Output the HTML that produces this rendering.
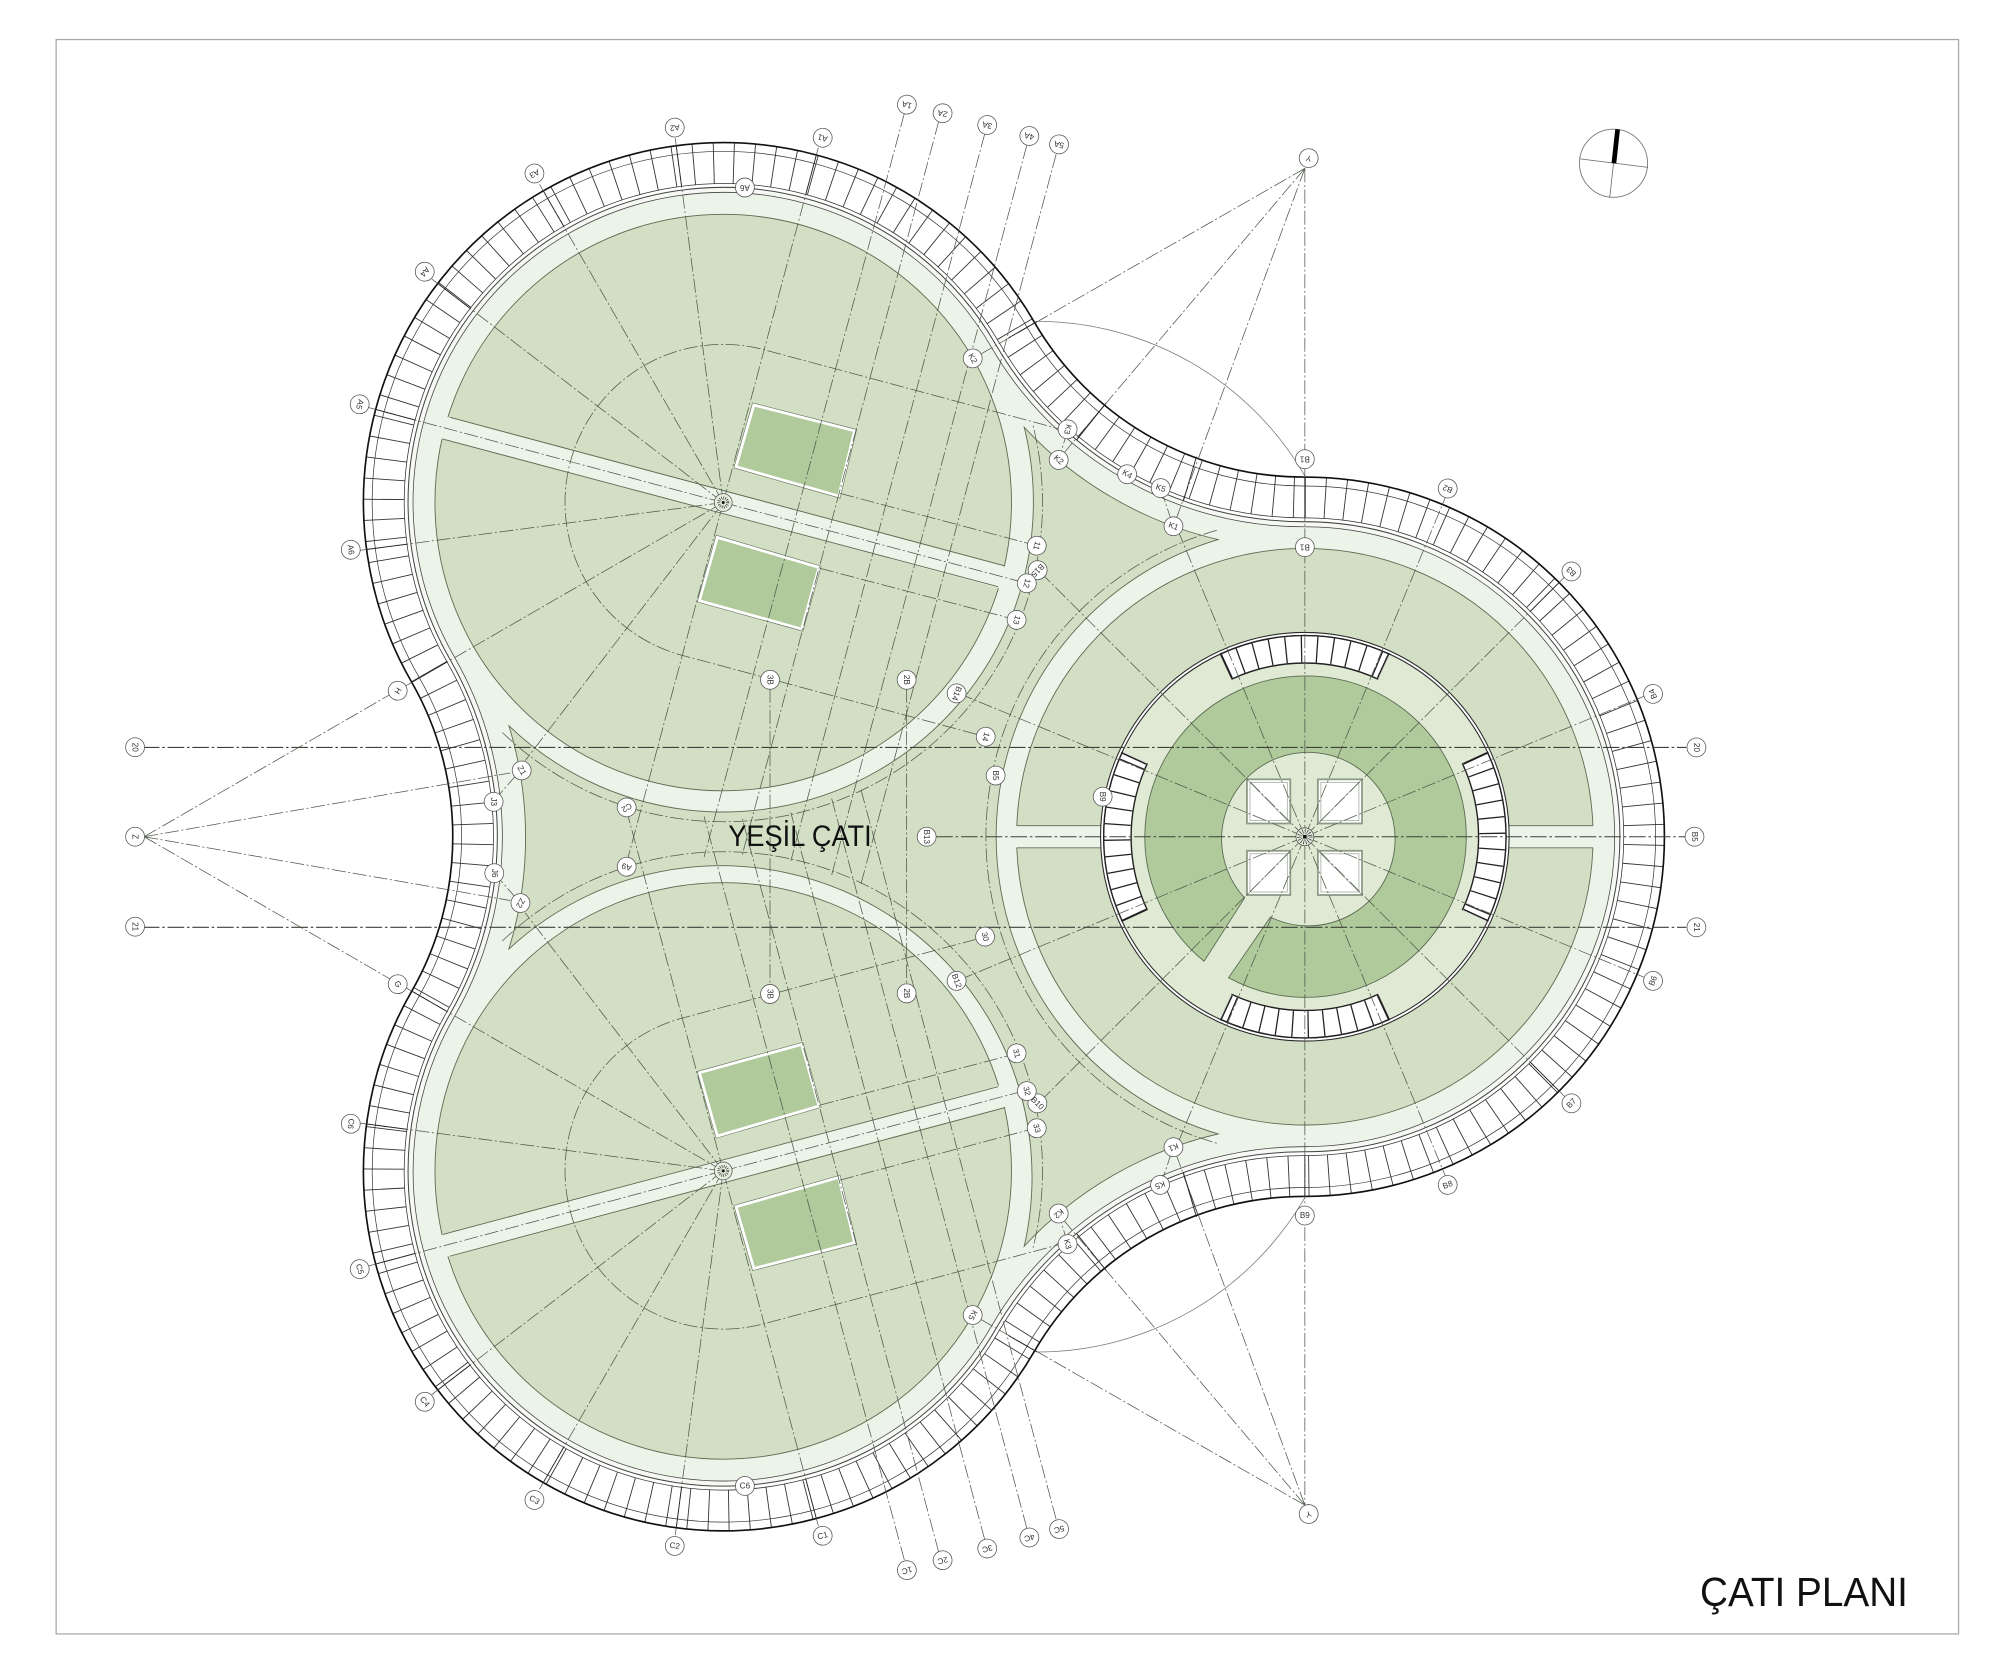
<!DOCTYPE html>
<html lang="tr">
<head>
<meta charset="utf-8">
<title>Çatı Planı</title>
<style>
html,body{margin:0;padding:0;background:#fff}
svg{display:block}
.g{fill:none;stroke:#515c4c;stroke-width:.6;stroke-dasharray:11 2 1.6 2}
.h{fill:none;stroke:#3c4238;stroke-width:.85;stroke-dasharray:13 2.2 2 2.2}
.s{fill:none;stroke:#222;stroke-width:.7}
.e{fill:none;stroke:#5a6b52;stroke-width:.7}
.t{fill:none;stroke:#333;stroke-width:.55}
.m circle{fill:#fff;stroke:#555;stroke-width:.6}
.m text{font:6.4px "Liberation Sans",sans-serif;fill:#333;text-anchor:middle;dominant-baseline:central}
.lbl{font-family:"Liberation Sans","Noto Sans CJK JP",sans-serif;fill:#111}
</style>
</head>
<body>
<svg xmlns="http://www.w3.org/2000/svg" width="2000" height="1678" viewBox="0 0 1568 1315.55">
<rect width="1568" height="1316" fill="#fff"/>
<rect x="44" y="31" width="1491.5" height="1250" fill="#fff" stroke="#a8a8a8" stroke-width="1"/>

<!-- trefoil outline and cladding band (semicircle radii are auto-fitted to the chord) -->
<path d="M1023,374 A100 100 0 0 1 1023,938 A244 244 0 0 0 811,1059.3 A100 100 0 1 1 322.8,777.1 A244 244 0 0 0 322.8,534.9 A100 100 0 1 1 811,252.7 A244 244 0 0 0 1023,374Z" fill="#fff"/>
<path d="M1023,390 A100 100 0 0 1 1023,922 A260 260 0 0 0 797.2,1051.3 A100 100 0 1 1 336.6,785 A260 260 0 0 0 336.6,527 A100 100 0 1 1 797.2,260.7 A260 260 0 0 0 1023,390Z" fill="none" stroke="#333" stroke-width="32" stroke-dasharray=".7 15"/>
<path d="M1023,381 A100 100 0 0 1 1023,931 A251 251 0 0 0 805,1055.8 A100 100 0 1 1 328.8,780.6 A251 251 0 0 0 328.8,531.4 A100 100 0 1 1 805,256.2 A251 251 0 0 0 1023,381Z" class="t"/>
<path d="M1023,374 A100 100 0 0 1 1023,938 A244 244 0 0 0 811,1059.3 A100 100 0 1 1 322.8,777.1 A244 244 0 0 0 322.8,534.9 A100 100 0 1 1 811,252.7 A244 244 0 0 0 1023,374Z" fill="none" stroke="#111" stroke-width="1.3"/>
<path d="M1023,406 A100 100 0 0 1 1023,906 A276 276 0 0 0 783.4,1043.2 A100 100 0 1 1 350.5,793 A276 276 0 0 0 350.5,519 A100 100 0 1 1 783.4,268.8 A276 276 0 0 0 1023,406Z" fill="#fff" stroke="#333" stroke-width=".6"/>
<path d="M1023,409 A100 100 0 0 1 1023,903 A279 279 0 0 0 780.8,1041.7 A100 100 0 1 1 353.1,794.5 A279 279 0 0 0 353.1,517.5 A100 100 0 1 1 780.8,270.3 A279 279 0 0 0 1023,409Z" fill="#f6f8f3" stroke="#444" stroke-width=".8"/>
<path d="M1023,413 A100 100 0 0 1 1023,899 A283 283 0 0 0 777.3,1039.7 A100 100 0 1 1 356.5,796.5 A283 283 0 0 0 356.5,515.5 A100 100 0 1 1 777.3,272.3 A283 283 0 0 0 1023,413Z" fill="#ecf3e8" stroke="#444" stroke-width=".6"/>

<!-- central green roof -->
<path d="M955,423 A243 243 0 0 0 955,889 A300 300 0 0 0 803,977 A244 244 0 0 0 399,744 A300 300 0 0 0 399,569 A243 243 0 0 0 803,335 A300 300 0 0 0 955,423Z" fill="#d2dfc4" stroke="#5a6b52" stroke-width=".7"/>

<!-- right lobe -->
<circle cx="1023" cy="656" r="226" fill="#d2dfc4" stroke="#5a6b52" stroke-width=".7"/>
<rect x="785" y="647.3" width="476" height="17.4" fill="#ecf3e8"/>
<path class="e" d="M797,647.3H870M797,664.7H870M1176,647.3H1249M1176,664.7H1249"/>
<circle cx="1023" cy="656" r="159" fill="#dfe9d4" stroke="#2a2a2a" stroke-width="3.2"/>
<circle cx="1023" cy="656" r="159" fill="none" stroke="#fff" stroke-width="1.5"/>
<path d="M944,753.6 A126 126 0 1 1 963.2,766.5 L996,719 A68 68 0 1 0 975.8,704Z" fill="#b0ca9b" stroke="#5a6b52" stroke-width=".7"/>

<!-- skylights in drum -->
<g fill="#fff" stroke="#8c9a86" stroke-width="1.4">
<rect x="977.6" y="611" width="34" height="34.6"/>
<rect x="1033.2" y="611" width="34.6" height="34.6"/>
<rect x="977.6" y="667" width="34" height="34.7"/>
<rect x="1033.2" y="667" width="34.6" height="34.7"/>
</g>
<g fill="none" stroke="#8c9a86" stroke-width=".5">
<rect x="980" y="613.4" width="29.2" height="29.8"/>
<rect x="1035.6" y="613.4" width="29.8" height="29.8"/>
<rect x="980" y="669.4" width="29.2" height="29.9"/>
<rect x="1035.6" y="669.4" width="29.8" height="29.9"/>
<path d="M977.6,611 L1011.6,645.6M1067.8,611 L1033.2,645.6M977.6,701.7 L1011.6,667M1067.8,701.7 L1033.2,667"/>
</g>

<!-- clerestory window segments -->
<g fill="none">
<g id="w">
<path d="M960.9,522.8 A147 147 0 0 1 1085.1,522.8" stroke="#222" stroke-width="22.6"/>
<path d="M960.9,522.8 A147 147 0 0 1 1085.1,522.8" stroke="#fff" stroke-width="20.4"/>
<path d="M960.9,522.8 A147 147 0 0 1 1085.1,522.8" stroke="#222" stroke-width="20.4" stroke-dasharray="1 11.2"/>
<path d="M966,531.5 L957,512M1080,531.5 L1089,512" stroke="#222" stroke-width="1.2"/>
</g>
<use href="#w" transform="rotate(90 1023 656)"/>
<use href="#w" transform="rotate(180 1023 656)"/>
<use href="#w" transform="rotate(270 1023 656)"/>
</g>

<!-- upper-left lobe (mirrored for lower-left) -->
<g id="u">
<circle cx="567" cy="394" r="226" fill="#d2dfc4" stroke="#5a6b52" stroke-width=".7"/>
<line x1="340" y1="333.1" x2="794" y2="454.9" stroke="#ecf3e8" stroke-width="17.4"/>
<path class="e" d="M352.8,327.2 L788,443.7M347.2,344.2 L782.5,460"/>
<polygon points="591,317.5 670,337.7 657.6,388.9 577,365.9" fill="#b0ca9b" stroke="#66765c" stroke-width="3.2"/>
<polygon points="591,317.5 670,337.7 657.6,388.9 577,365.9" fill="#b0ca9b" stroke="#fff" stroke-width="2.2"/>
<polygon points="562.4,421.3 642.1,444.8 628.5,493.2 548.3,471" fill="#b0ca9b" stroke="#66765c" stroke-width="3.2"/>
<polygon points="562.4,421.3 642.1,444.8 628.5,493.2 548.3,471" fill="#b0ca9b" stroke="#fff" stroke-width="2.2"/>

<!-- radial grid -->
<g class="g">
<line x1="567" y1="394" x2="567" y2="106" transform="rotate(15 567 394)"/>
<line x1="567" y1="394" x2="567" y2="106" transform="rotate(-7.5 567 394)"/>
<line x1="567" y1="394" x2="567" y2="106" transform="rotate(-30 567 394)"/>
<line x1="567" y1="394" x2="567" y2="106" transform="rotate(-52.5 567 394)"/>
<line x1="567" y1="394" x2="567" y2="106" transform="rotate(-75 567 394)"/>
<line x1="567" y1="394" x2="567" y2="106" transform="rotate(-97.5 567 394)"/>
<line x1="567" y1="394" x2="567" y2="106" transform="rotate(-120 567 394)"/>
<line x1="567" y1="394" x2="567" y2="139" transform="rotate(-142.5 567 394)"/>
<line x1="567" y1="394" x2="567" y2="106" transform="rotate(-165 567 394)"/>
<line x1="567" y1="394" x2="805" y2="457.3"/>
<path d="M836.7,337.9 L599.1,274.2 A124 124 0 0 0 534.9,513.8 L772.8,577.6"/>
<line x1="658.6" y1="386.8" x2="812.8" y2="427.8"/>
<line x1="642.9" y1="445.6" x2="797" y2="486"/>
<!-- parallel grid A -->
<line x1="709" y1="89" x2="552" y2="672"/>
<line x1="736" y1="95" x2="582" y2="670"/>
<line x1="772" y1="105" x2="620" y2="675"/>
<line x1="805" y1="114" x2="652" y2="686"/>
<line x1="828" y1="121" x2="675" y2="693"/>
<!-- fillet-centre rays -->
<line x1="1023" y1="132" x2="763" y2="281"/>
<line x1="1023" y1="132" x2="830" y2="360"/>
<line x1="1023" y1="132" x2="920" y2="412.6"/>
<line x1="113" y1="656" x2="311" y2="541.5"/>
<line x1="113" y1="656" x2="400" y2="606"/>
<!-- rings near the green roof -->
<path d="M393.9,574.3 A250 250 0 0 0 809.8,333.3"/>
<line x1="837" y1="337" x2="830" y2="361"/>
<line x1="910" y1="383" x2="920" y2="413"/>
<line x1="387" y1="628" x2="408" y2="604"/>
</g>
<g class="s">
<line x1="567" y1="144" x2="567" y2="112" transform="rotate(15 567 394)"/>
<line x1="567" y1="144" x2="567" y2="112" transform="rotate(-7.5 567 394)"/>
<line x1="567" y1="144" x2="567" y2="112" transform="rotate(-30 567 394)"/>
<line x1="567" y1="144" x2="567" y2="112" transform="rotate(-52.5 567 394)"/>
<line x1="567" y1="144" x2="567" y2="112" transform="rotate(-75 567 394)"/>
<line x1="567" y1="144" x2="567" y2="112" transform="rotate(-97.5 567 394)"/>
<line x1="567" y1="144" x2="567" y2="112" transform="rotate(-120 567 394)"/>
<line x1="813" y1="252" x2="790.6" y2="265"/>
<line x1="867" y1="316.2" x2="844" y2="345"/>
<line x1="938" y1="358" x2="927.7" y2="393"/>
</g>
<path d="M813,252 A243 243 0 0 1 1023,373" fill="none" stroke="#777" stroke-width=".6"/>
<circle cx="567" cy="394" r="7" fill="#e6eedd" stroke="#555" stroke-width=".6"/>
<circle cx="567" cy="394" r="3.5" fill="none" stroke="#333" stroke-width="2.4" stroke-dasharray=".5 1"/>
<circle cx="567" cy="394" r="1.2" fill="#111"/>
</g>
<use href="#u" transform="matrix(1 0 0 -1 0 1312)"/>

<!-- right lobe grid -->
<path class="g" d="M954,415.7 A250 250 0 0 0 954,896.3"/>
<g class="g">
<line x1="1023" y1="656" x2="1023" y2="368" transform="rotate(22.5 1023 656)"/>
<line x1="1023" y1="656" x2="1023" y2="368" transform="rotate(45 1023 656)"/>
<line x1="1023" y1="656" x2="1023" y2="368" transform="rotate(67.5 1023 656)"/>
<line x1="1023" y1="656" x2="1023" y2="368" transform="rotate(112.5 1023 656)"/>
<line x1="1023" y1="656" x2="1023" y2="368" transform="rotate(135 1023 656)"/>
<line x1="1023" y1="656" x2="1023" y2="368" transform="rotate(157.5 1023 656)"/>
<line x1="1023" y1="656" x2="1023" y2="392" transform="rotate(-157.5 1023 656)"/>
<line x1="1023" y1="656" x2="1023" y2="360" transform="rotate(-135 1023 656)"/>
<line x1="1023" y1="656" x2="1023" y2="361" transform="rotate(-112.5 1023 656)"/>
<line x1="1023" y1="656" x2="1023" y2="361" transform="rotate(-67.5 1023 656)"/>
<line x1="1023" y1="656" x2="1023" y2="360" transform="rotate(-45 1023 656)"/>
<line x1="1023" y1="656" x2="1023" y2="392" transform="rotate(-22.5 1023 656)"/>
<line x1="1023" y1="132" x2="1023" y2="1180"/>
<line x1="603.7" y1="540" x2="603.7" y2="772"/>
<line x1="710.8" y1="540" x2="710.8" y2="772"/>
</g>
<g class="s">
<line x1="1023" y1="406" x2="1023" y2="374"/>
<line x1="1023" y1="906" x2="1023" y2="938"/>
<line x1="1023" y1="406" x2="1023" y2="374" transform="rotate(45 1023 656)"/>
<line x1="1023" y1="406" x2="1023" y2="374" transform="rotate(135 1023 656)"/>
</g>
<g class="h">
<line x1="112" y1="586" x2="1322" y2="586"/>
<line x1="112" y1="727" x2="1322" y2="727"/>
<line x1="734" y1="656" x2="1322" y2="656"/>
</g>
<circle cx="1023" cy="656" r="7" fill="#e6eedd" stroke="#555" stroke-width=".6"/>
<circle cx="1023" cy="656" r="4" fill="none" stroke="#333" stroke-width="4" stroke-dasharray=".5 1.2"/>
<rect x="1021.6" y="654.6" width="2.8" height="2.8" fill="#111"/>

<!-- markers -->
<g class="m">
<!-- A line (top) -->
<g transform="translate(711,82) rotate(195)"><circle r="7.4"/><text>1A</text></g>
<g transform="translate(739,88.8) rotate(195)"><circle r="7.4"/><text>2A</text></g>
<g transform="translate(774,98) rotate(195)"><circle r="7.4"/><text>3A</text></g>
<g transform="translate(807,106.6) rotate(195)"><circle r="7.4"/><text>4A</text></g>
<g transform="translate(830.3,113.2) rotate(195)"><circle r="7.4"/><text>5A</text></g>
<!-- C line (bottom) -->
<g transform="translate(711,1231) rotate(165)"><circle r="7.4"/><text>1C</text></g>
<g transform="translate(739,1223.2) rotate(165)"><circle r="7.4"/><text>2C</text></g>
<g transform="translate(774,1214) rotate(165)"><circle r="7.4"/><text>3C</text></g>
<g transform="translate(807,1205.4) rotate(165)"><circle r="7.4"/><text>4C</text></g>
<g transform="translate(830.3,1198.8) rotate(165)"><circle r="7.4"/><text>5C</text></g>
<!-- upper lobe rim -->
<g transform="translate(645,108) rotate(195)"><circle r="7.4"/><text>A1</text></g>
<g transform="translate(529,100) rotate(172)"><circle r="7.4"/><text>A2</text></g>
<g transform="translate(419,136) rotate(150)"><circle r="7.4"/><text>A3</text></g>
<g transform="translate(333,213) rotate(128)"><circle r="7.4"/><text>A4</text></g>
<g transform="translate(282,317) rotate(105)"><circle r="7.4"/><text>A5</text></g>
<g transform="translate(275,431) rotate(82)"><circle r="7.4"/><text>A6</text></g>
<g transform="translate(584,147) rotate(180)"><circle r="7.4"/><text>A6</text></g>
<g transform="translate(762.6,281) rotate(60)"><circle r="7.4"/><text>K2</text></g>
<g transform="translate(837,336.6) rotate(105)"><circle r="7.4"/><text>K3</text></g>
<g transform="translate(830,360.6) rotate(40)"><circle r="7.4"/><text>K2</text></g>
<g transform="translate(883.7,371.8) rotate(30)"><circle r="7.4"/><text>K4</text></g>
<g transform="translate(910,382.7) rotate(20)"><circle r="7.4"/><text>K5</text></g>
<g transform="translate(920,412.6) rotate(20)"><circle r="7.4"/><text>K1</text></g>
<!-- lower lobe rim -->
<g transform="translate(645,1204) rotate(-15)"><circle r="7.4"/><text>C1</text></g>
<g transform="translate(529,1212) rotate(8)"><circle r="7.4"/><text>C2</text></g>
<g transform="translate(419,1176) rotate(30)"><circle r="7.4"/><text>C3</text></g>
<g transform="translate(333,1099) rotate(52)"><circle r="7.4"/><text>C4</text></g>
<g transform="translate(282,995) rotate(75)"><circle r="7.4"/><text>C5</text></g>
<g transform="translate(275,881) rotate(98)"><circle r="7.4"/><text>C6</text></g>
<g transform="translate(584,1165)"><circle r="7.4"/><text>C6</text></g>
<g transform="translate(762.6,1031) rotate(120)"><circle r="7.4"/><text>K5</text></g>
<g transform="translate(837,975.4) rotate(75)"><circle r="7.4"/><text>K3</text></g>
<g transform="translate(830,951.4) rotate(140)"><circle r="7.4"/><text>K2</text></g>
<g transform="translate(909.5,929) rotate(160)"><circle r="7.4"/><text>K5</text></g>
<g transform="translate(920,899.4) rotate(160)"><circle r="7.4"/><text>K1</text></g>
<!-- left -->
<g transform="translate(105.9,585.8) rotate(90)"><circle r="7.4"/><text>20</text></g>
<g transform="translate(105.9,656) rotate(90)"><circle r="7.4"/><text>Z</text></g>
<g transform="translate(105.9,726.5) rotate(90)"><circle r="7.4"/><text>21</text></g>
<g transform="translate(311.8,541.5) rotate(120)"><circle r="7.4"/><text>H</text></g>
<g transform="translate(311.8,771.6) rotate(60)"><circle r="7.4"/><text>G</text></g>
<g transform="translate(409,604) rotate(60)"><circle r="7.4"/><text>Z1</text></g>
<g transform="translate(387,628.6) rotate(90)"><circle r="7.4"/><text>J3</text></g>
<g transform="translate(387.5,684.6) rotate(90)"><circle r="7.4"/><text>J6</text></g>
<g transform="translate(408,708) rotate(120)"><circle r="7.4"/><text>Z2</text></g>
<!-- middle -->
<g transform="translate(491.3,633) rotate(150)"><circle r="7.4"/><text>C2</text></g>
<g transform="translate(491.3,679.5) rotate(195)"><circle r="7.4"/><text>A9</text></g>
<g transform="translate(603.7,533) rotate(90)"><circle r="7.4"/><text>3B</text></g>
<g transform="translate(710.8,533) rotate(90)"><circle r="7.4"/><text>2B</text></g>
<g transform="translate(603.7,779.3) rotate(90)"><circle r="7.4"/><text>3B</text></g>
<g transform="translate(710.8,778.8) rotate(90)"><circle r="7.4"/><text>2B</text></g>
<g transform="translate(812.8,427.8) rotate(105)"><circle r="7.4"/><text>11</text></g>
<g transform="translate(813.5,447) rotate(135)"><circle r="7.4"/><text>B15</text></g>
<g transform="translate(805,457.3) rotate(105)"><circle r="7.4"/><text>12</text></g>
<g transform="translate(797,486) rotate(105)"><circle r="7.4"/><text>13</text></g>
<g transform="translate(750,543.6) rotate(110)"><circle r="7.4"/><text>B14</text></g>
<g transform="translate(772.8,577.6) rotate(105)"><circle r="7.4"/><text>14</text></g>
<g transform="translate(780.6,608) rotate(90)"><circle r="7.4"/><text>B5</text></g>
<g transform="translate(726.5,656) rotate(90)"><circle r="7.4"/><text>B13</text></g>
<g transform="translate(864.5,624.6) rotate(90)"><circle r="7.4"/><text>B9</text></g>
<g transform="translate(812.8,884.5) rotate(75)"><circle r="7.4"/><text>33</text></g>
<g transform="translate(813.3,865) rotate(45)"><circle r="7.4"/><text>B10</text></g>
<g transform="translate(805,855.4) rotate(75)"><circle r="7.4"/><text>32</text></g>
<g transform="translate(797,825.8) rotate(75)"><circle r="7.4"/><text>31</text></g>
<g transform="translate(750,769) rotate(70)"><circle r="7.4"/><text>B12</text></g>
<g transform="translate(772.3,734.3) rotate(75)"><circle r="7.4"/><text>30</text></g>
<!-- right lobe -->
<g transform="translate(1023,360) rotate(180)"><circle r="7.4"/><text>B1</text></g>
<g transform="translate(1023,429) rotate(180)"><circle r="7.4"/><text>B1</text></g>
<g transform="translate(1135,383) rotate(202)"><circle r="7.4"/><text>B2</text></g>
<g transform="translate(1232,448) rotate(225)"><circle r="7.4"/><text>B3</text></g>
<g transform="translate(1296,544) rotate(248)"><circle r="7.4"/><text>B4</text></g>
<g transform="translate(1328.5,656) rotate(90)"><circle r="7.4"/><text>B5</text></g>
<g transform="translate(1296,769) rotate(-68)"><circle r="7.4"/><text>B6</text></g>
<g transform="translate(1232,865) rotate(-45)"><circle r="7.4"/><text>B7</text></g>
<g transform="translate(1135,929) rotate(-22)"><circle r="7.4"/><text>B8</text></g>
<g transform="translate(1023,953)"><circle r="7.4"/><text>B9</text></g>
<g transform="translate(1330,586) rotate(90)"><circle r="7.4"/><text>20</text></g>
<g transform="translate(1330,727) rotate(90)"><circle r="7.4"/><text>21</text></g>
<g transform="translate(1026,124) rotate(195)"><circle r="7.4"/><text>Y</text></g>
<g transform="translate(1026,1187) rotate(165)"><circle r="7.4"/><text>Y</text></g>
</g>

<!-- north arrow -->
<circle cx="1265" cy="128" r="26.7" fill="#fff" stroke="#777" stroke-width=".7"/>
<line x1="1238.8" y1="124.6" x2="1292" y2="131.2" stroke="#666" stroke-width=".6"/>
<line x1="1268" y1="101.5" x2="1262" y2="155" stroke="#666" stroke-width=".6"/>
<line x1="1268.2" y1="101.4" x2="1265.3" y2="128" stroke="#000" stroke-width="3.7"/>

<!-- titles -->
<text class="lbl" x="571" y="663.4" font-size="23" textLength="112.4" lengthAdjust="spacingAndGlyphs">YEŞİL ÇATI</text>
<text class="lbl" x="1332.8" y="1259" font-size="32" textLength="163" lengthAdjust="spacingAndGlyphs">ÇATI PLANI</text>
</svg>
</body>
</html>
